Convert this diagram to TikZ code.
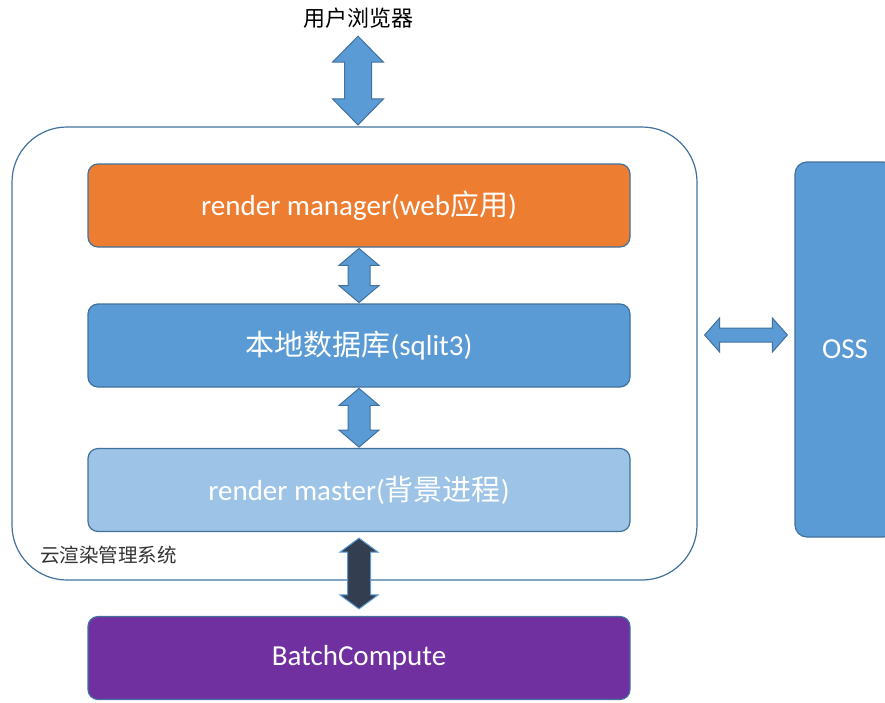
\documentclass[tikz,border=0pt]{standalone}
\usepackage{fontspec}
\setmainfont{Carlito}
\newfontfamily\cjk{Noto Sans CJK SC}
\usetikzlibrary{calc}
\definecolor{frame}{HTML}{41719C}
\definecolor{mgrorange}{HTML}{ED7D31}
\definecolor{dbblue}{HTML}{5B9BD5}
\definecolor{masterblue}{HTML}{9DC3E6}
\definecolor{batchpurple}{HTML}{7030A0}
\definecolor{darkarrow}{HTML}{333F50}
\tikzset{
  layer/.style={draw=frame, line width=1.2pt, rounded corners=10pt, minimum width=542pt,
    minimum height=83pt, inner sep=0pt, text=white, font=\fontsize{29}{34}\selectfont},
  biarrow/.style={fill=dbblue, draw=frame, line width=1pt, line join=miter},
}
% vertical block arrow: style, from, to, top gap, bottom gap, shaft half, head half, head length
\newcommand{\vbiarrow}[8]{%
  \filldraw[#1] let \p1=(#2), \p2=(#3) in
    (\x1,\y1-#4) -- (\x1+#7,\y1-#4-#8) -- (\x1+#6,\y1-#4-#8) -- (\x1+#6,\y2+#5+#8)
    -- (\x1+#7,\y2+#5+#8) -- (\x1,\y2+#5) -- (\x1-#7,\y2+#5+#8) -- (\x1-#6,\y2+#5+#8)
    -- (\x1-#6,\y1-#4-#8) -- (\x1-#7,\y1-#4-#8) -- cycle;}
% horizontal block arrow: style, from, to, gap, shaft half, head half, head length
\newcommand{\hbiarrow}[7]{%
  \filldraw[#1] let \p1=(#2), \p2=(#3) in
    (\x1+#4,\y1) -- (\x1+#4+#7,\y1+#6) -- (\x1+#4+#7,\y1+#5) -- (\x2-#4-#7,\y1+#5)
    -- (\x2-#4-#7,\y1+#6) -- (\x2-#4,\y1) -- (\x2-#4-#7,\y1-#6) -- (\x2-#4-#7,\y1-#5)
    -- (\x1+#4+#7,\y1-#5) -- (\x1+#4+#7,\y1-#6) -- cycle;}
\begin{document}
\begin{tikzpicture}[x=1pt,y=-1pt]
\useasboundingbox (0,0) rectangle (885,702);
\clip (0,0) rectangle (885,702);
\node[anchor=base, inner sep=0pt, text depth=4pt, font=\fontsize{22}{26}\selectfont\cjk] (browser) at (358,26.5) {用户浏览器};
\node[draw=frame, line width=1.2pt, rounded corners=55pt, minimum width=685pt, minimum height=453pt] (sys) at (354.5,353.5) {};
\node[anchor=west, inner sep=0pt, text=black!80, font=\fontsize{19.5}{23}\selectfont\cjk] (syslabel) at (40,555) {云渲染管理系统};
\node[layer, fill=mgrorange] (mgr) at (359,205.5) {render manager(web{\cjk 应用})};
\node[layer, fill=dbblue] (db) at (359,345.5) {{\cjk 本地数据库}(sqlit3)};
\node[layer, fill=masterblue] (master) at (359,490) {render master({\cjk 背景进程})};
\node[layer, fill=batchpurple] (batch) at (359,658) {BatchCompute};
\node[layer, fill=dbblue, rounded corners=12pt, minimum width=100pt, minimum height=375pt] (oss) at (845,349.5) {OSS};
% arrows
\vbiarrow{biarrow}{browser.south}{sys.north}{5.5pt}{1.5pt}{13.5pt}{25.5pt}{26pt}
\vbiarrow{biarrow}{mgr.south}{db.north}{0.8pt}{0.8pt}{11pt}{20pt}{17pt}
\vbiarrow{biarrow}{db.south}{master.north}{0.8pt}{0.8pt}{11pt}{20pt}{17pt}
\vbiarrow{biarrow, fill=darkarrow, draw=dbblue}{master.south}{batch.north}{6pt}{7pt}{11.5pt}{19pt}{14pt}
\hbiarrow{biarrow}{$(sys.east)+(0,-18.5)$}{oss.west}{7pt}{7pt}{17pt}{15pt}
\end{tikzpicture}
\end{document}
